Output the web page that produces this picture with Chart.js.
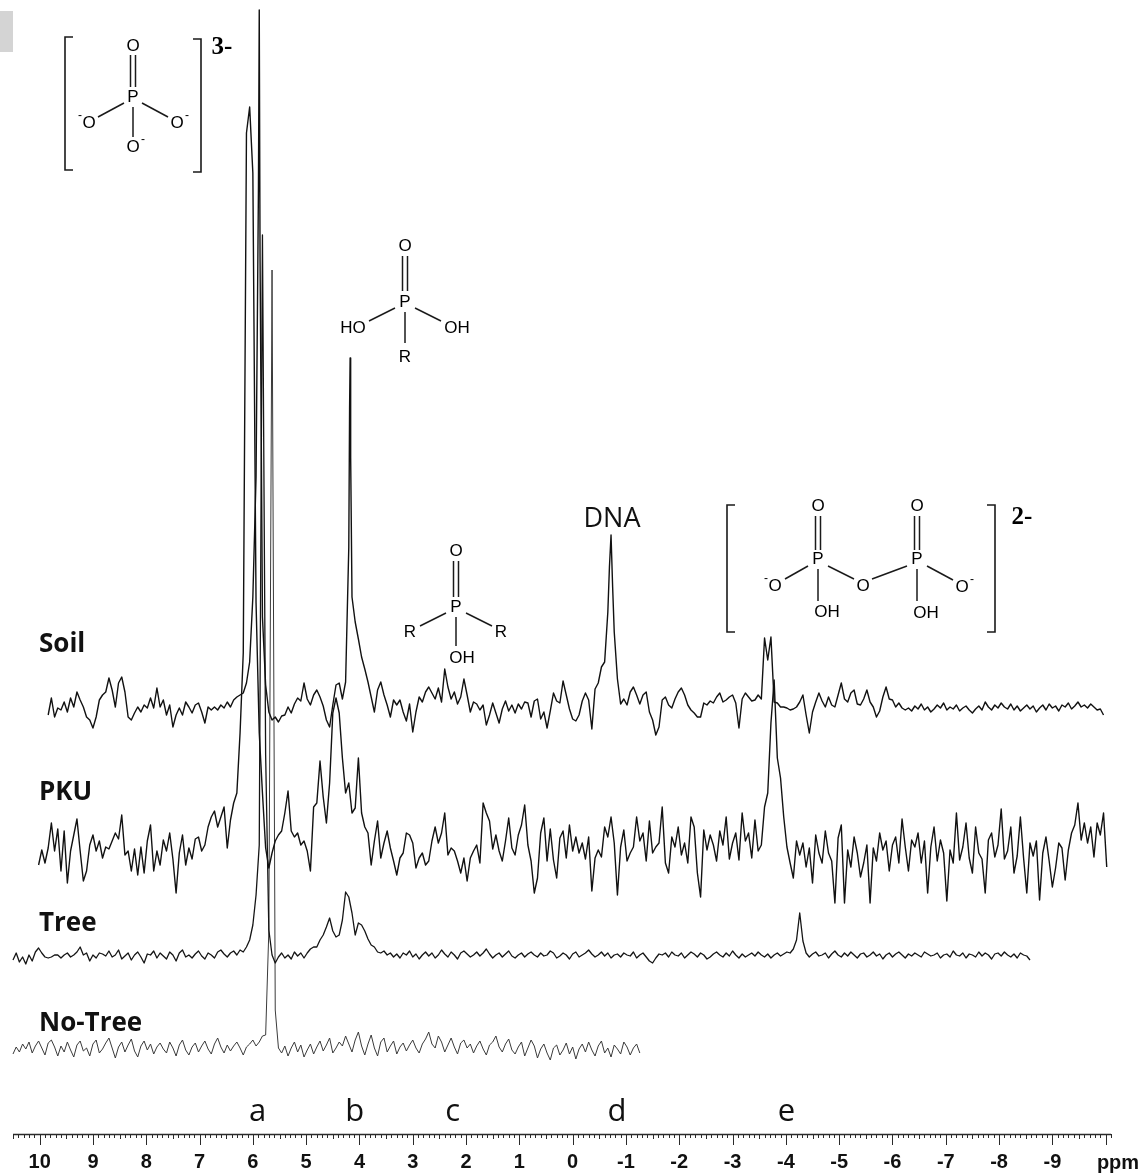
<!DOCTYPE html>
<html><head><meta charset="utf-8">
<script src="https://cdn.jsdelivr.net/npm/chart.js@4.4.1/dist/chart.umd.min.js"></script>
<style>html,body{margin:0;padding:0;background:#fff;}#wrap{width:1142px;height:1174px;position:relative;}</style>
</head><body><div id="wrap"><canvas id="c"></canvas></div>
<script>
// ---- data (ppm grid step, intensities above each trace's baseline) ----
const STEP = 0.06;
const tickLabels = [10, 9, 8, 7, 6, 5, 4, 3, 2, 1, 0, -1, -2, -3, -4, -5, -6, -7, -8, -9];
const traceNames = ['Soil', 'PKU', 'Tree', 'No-Tree'];
const traceOffsets = [427, 281, 179, 84];
const peakLetters = ['a', 'b', 'c', 'd', 'e'];
const peakLetterPpm = [5.91, 4.09, 2.25, -0.83, -4.01];

const soilStart = 9.84;
const soilVals = [
 -8, 9, -10, -1, -3, 5, -5, 9, 0, 15,
 7, 0, -10, -13, -21, -10, 7, 12, 15, 29,
 17, 0, 24, 30, 15, -10, -13, -6, 0, -5,
 2, -1, 9, -1, 19, 0, 7, -8, 2, -20,
 -8, -1, -8, 5, 0, -6, 2, 4, -5, -16,
 0, -3, 0, -3, 2, -1, 5, 0, 7, 10,
 12, 14, 24, 45, 110, 230, 697, 90, 22, -5,
 -13, -10, -15, -9, -8, 0, -6, 3, 9, 6,
 24, 8, 2, 12, 17, 10, 1, -13, -20, 2,
 22, 24, 8, 25, 160, 110, 85, 68, 50, 38,
 25, 10, -5, 17, 25, 12, 2, -10, 7, 2,
 7, -5, -14, 3, -25, -5, 10, 5, 15, 20,
 14, 8, 19, 5, 38, 20, 8, 15, 3, 10,
 28, 12, -5, 5, 3, -3, 2, -18, -8, 4,
 -6, -16, -2, 6, -4, 2, -6, 3, -2, 5,
 4, -10, 6, 8, -12, -5, -21, -4, 14, 6,
 4, 26, 12, -2, -12, -14, -8, 6, 14, 7,
 -22, 18, 24, 40, 45, 95, 172, 75, 28, 3,
 8, 2, 15, 20, 12, 3, 12, 15, -5, -13,
 -28, -20, 7, 10, 2, -1, 8, 15, 19, 12,
 2, -3, -6, -10, -10, 4, 2, 6, 4, 10,
 14, 5, 7, 10, 12, 4, -21, 8, 14, 10,
 6, 7, 12, 8, 69, 47, 70, 5, 4, 0,
 0, -1, -3, -2, 0, 5, 12, -8, -26, -5,
 5, 14, 6, 0, 10, 2, 0, 12, 24, 8,
 5, 14, 17, 3, 2, 8, 17, 5, 0, -10,
 -4, 10, 20, 8, 7, 0, 4, -1, -3, -1,
 -4, 1, -2, 3, -3, 0, -5, -2, 2, -1,
 4, -3, 0, -2, 2, -4, -1, 1, -3, -6,
 -2, 1, -3, 5, 0, -3, 2, -1, 4, 0,
 -2, 3, -3, 1, -4, -1, 2, -2, 1, -5,
 -1, 2, -3, 3, -1, 1, -4, 2, 0, 4,
 -2, 1, 5, 0, 2, -1, 3, 0, -3, -2,
 -8
];
const soilExtraPpm = [5.895, 5.865, 4.185, 4.175, 4.165, -0.69, -0.75];
const soilExtraVals = [520, 450, 300, 349, 250, 140, 120];

const pkuStart = 10.02;
const pkuVals = [
 -12, 3, -10, 5, 30, 2, 24, -18, 22, -30,
 2, 18, 34, 2, -28, -18, 8, 18, 2, 12,
 -5, 6, 4, 12, 20, 14, 38, -2, 2, -18,
 4, -22, 6, -20, 12, 28, -18, 2, -12, 13,
 2, 20, -6, -40, 0, 18, -12, 5, -6, 14,
 16, 2, 8, 26, 36, 42, 26, 36, 46, 5,
 33, 50, 60, 120, 200, 720, 746, 680, 250, 120,
 60, 5, -15, 0, 12, 18, 22, 40, 62, 22,
 16, 20, 8, 12, 2, -18, 46, 50, 92, 56,
 30, 70, 140, 155, 140, 95, 60, 70, 40, 45,
 95, 40, 26, 20, -12, 12, 32, -5, 10, 22,
 5, -8, -22, -5, 0, 20, 18, 10, -15, -5,
 0, -12, -8, 12, 26, 10, 20, 40, -2, 5,
 2, -8, -20, -5, -28, -5, 2, 8, -10, 50,
 40, 32, 4, 18, 2, -8, 12, 35, 5, -2,
 18, 28, 48, 8, -8, -40, -25, 20, 35, -8,
 24, -7, -25, 15, 22, -5, 28, 2, 16, 0,
 10, -6, 16, -38, -5, 3, -4, 26, 16, 36,
 10, -42, 6, 23, -8, 0, 6, 36, 12, 20,
 -8, 32, 0, 6, 10, 46, -10, -20, 16, 6,
 26, -2, 10, -10, 36, 26, -20, -44, 23, 3,
 18, 8, -8, 22, 8, 36, -6, 10, 20, -7,
 40, 12, 20, -5, 33, 2, 8, 46, 60, 130,
 173, 95, 75, 36, 6, -10, -25, 12, -2, 10,
 -14, 5, -30, 18, 0, -10, 22, 0, -8, -50,
 15, 28, -50, 3, -14, 16, 0, -24, -10, 8,
 -50, 5, -8, 20, 3, 12, -18, 8, 16, -10,
 34, 6, -18, 13, 6, 20, -10, 12, -40, 6,
 26, -8, 13, 0, -48, 3, -10, 40, -7, 6,
 30, -5, -20, 26, 0, -6, -40, 13, 20, -4,
 8, 44, -6, 2, 26, -20, -3, 36, -5, -40,
 10, -3, 12, -47, 0, 16, -8, -34, -15, 10,
 5, -27, 3, 20, 28, 50, 13, 30, 10, 26,
 -4, 30, 18, 40, -14
];

const treeStart = 10.50;
const treeVals = [
 -5, 2, -7, -2, -9, 0, -6, 3, 7, 2,
 -2, -3, -2, 0, 0, -3, 0, 2, -2, 0,
 3, 8, 0, 2, -6, 0, -3, 2, 1, -1,
 4, -2, 0, 5, -4, -1, 2, -5, 0, 3,
 -2, -8, 1, 0, 4, -3, 2, -1, -4, 3,
 0, -6, 2, 5, -2, 0, -3, 1, 4, -1,
 -4, 2, 0, -3, 3, 5, 1, -2, 2, 4,
 0, 5, 3, 8, 15, 30, 60, 110, 720, 200,
 25, 0, -8, -2, 2, -3, 0, -4, 3, -1,
 2, -3, 2, 6, 8, 8, 15, 20, 28, 37,
 24, 18, 20, 35, 63, 58, 42, 20, 32, 30,
 24, 16, 10, 8, 3, 2, 4, 0, 2, -2,
 1, -3, 2, 0, 4, -2, 1, -4, 0, 3,
 -1, 2, -3, 0, 5, 1, -2, 3, 0, -4,
 2, 4, 1, -2, 0, 3, -1, 2, 6, 1,
 -3, 0, 2, -2, 1, 4, -1, -3, 0, 2,
 -2, 1, 3, 0, -2, 2, -1, 0, 4, 2,
 -3, -1, 2, 0, -4, 1, 3, -2, 0, 2,
 5, 1, -2, 0, 3, -1, 2, -3, 0, 1,
 -2, 2, 0, -1, 3, -3, 0, 2, -2, -6,
 -8, -3, 1, 0, 2, -2, 3, 0, -1, 2,
 -3, 0, 3, 1, -2, 2, 0, -4, -2, 1,
 3, 0, -2, 2, -1, 4, 0, -3, 1, -2,
 0, 2, -1, 3, 0, -2, 1, -3, 0, 2,
 -1, 1, 3, 2, 6, 15, 42, 14, 2, -2,
 1, 3, -1, 0, 2, -3, 1, 4, 0, -2,
 2, -1, 3, 0, -3, 1, 2, -2, 0, 3,
 -1, 1, -4, 0, 2, -2, 1, 3, 0, -3,
 1, -1, 2, 0, -2, 3, 1, -1, 0, 2,
 -3, 0, 1, -2, 4, 0, -1, 2, -3, 1,
 0, -2, 3, -1, 2, 0, -4, 1, 2, -1,
 3, 0, -2, 1, -3, 2, 0, -1, -5
];

const noTreeStart = 10.50;
const noTreeVals = [
 -4, 3, -2, 6, 1, 8, -3, 4, 9, 2,
 -5, 7, 10, 3, -6, 4, -2, 8, 0, -7,
 5, 9, -1, 2, -6, 6, 10, -3, 1, 7,
 12, 2, -8, 3, 8, -2, 5, 11, -1, -7,
 4, 9, 0, 6, -4, 3, 7, 1, -3, 8,
 2, -6, 5, 10, 0, -5, 3, 7, -2, 4,
 9, 1, -4, 6, 12, 3, -3, 5, -1, 4,
 8, 2, -5, 3, 6, 10, 4, 8, 14, 15,
 120, 780, 40, 2, -3, 4, -6, 2, 8, -2,
 5, -7, 0, 6, -4, 3, 9, -1, 5, 12,
 -3, 2, 8, 4, 14, 6, -2, 10, 18, 4,
 -5, 6, 15, 2, -6, 8, 12, -2, 4, 9,
 -4, 3, 7, -1, 5, 10, 2, -3, 6, 11,
 18, 6, 2, 14, 8, -2, 5, 12, 3, -4,
 7, 10, 2, 6, -3, 4, 9, 1, -5, 5,
 8, 14, 3, -2, 6, 11, 0, -4, 3, 8,
 -6, 2, 10, 4, -8, 1, 6, -3, -10, 2,
 5, -5, 0, 7, -4, 3, -9, 1, 6, -2,
 8, 0, -6, 4, 9, -3, 2, -7, 5, 1,
 -4, 8, 3, -5, 2, 6, -3
];

// ---- build series ----
function buildSeries(start, vals, offset, extraPpm, extraVals) {
  const pts = vals.map((v, i) => ({ x: +(start - i * STEP).toFixed(3), y: offset + v }));
  (extraPpm || []).forEach((p, k) => pts.push({ x: p, y: offset + extraVals[k] }));
  pts.sort((a, b) => b.x - a.x);
  return pts;
}
const series = [
  buildSeries(soilStart, soilVals, traceOffsets[0], soilExtraPpm, soilExtraVals),
  buildSeries(pkuStart, pkuVals, traceOffsets[1]),
  buildSeries(treeStart, treeVals, traceOffsets[2]),
  buildSeries(noTreeStart, noTreeVals, traceOffsets[3])
];
const lineColors = ['#111', '#111', '#151515', '#3a3a3a'];
const lineWidths = [1.4, 1.4, 1.3, 1.0];

// ---- drawing helpers for annotations ----
const ATOM = '17px "Liberation Sans", Arial, sans-serif';
const SUP = '12px "Liberation Sans", Arial, sans-serif';
const AXF = 'bold 20px "Liberation Sans Narrow", "Liberation Sans", Arial, sans-serif';
function T(ctx, s, x, y, font, align) {
  ctx.font = font; ctx.textAlign = align || 'center'; ctx.textBaseline = 'middle'; ctx.fillText(s, x, y);
}
function L(ctx, p) {
  ctx.beginPath(); ctx.moveTo(p[0], p[1]);
  for (let i = 2; i < p.length; i += 2) ctx.lineTo(p[i], p[i + 1]);
  ctx.stroke();
}

const annot = {
  id: 'annot',
  afterDraw(chart) {
    const ctx = chart.ctx, xs = chart.scales.x, a = chart.chartArea;
    ctx.save();
    ctx.fillStyle = '#d4d4d4'; ctx.fillRect(0, 11, 13, 41);
    // axis line + ticks
    ctx.strokeStyle = '#2a2a2a'; ctx.lineWidth = 1.5;
    L(ctx, [xs.getPixelForValue(10.5), a.bottom + 0.5, xs.getPixelForValue(-10.1), a.bottom + 0.5]);
    ctx.lineWidth = 1;
    for (let k = -101; k <= 105; k++) {
      const px = Math.round(xs.getPixelForValue(k / 10)) + 0.5;
      const len = k % 10 === 0 ? 11 : (k % 5 === 0 ? 5 : 4);
      L(ctx, [px, a.bottom, px, a.bottom + len]);
    }
    ctx.fillStyle = '#111';
    T(ctx, 'ppm', 1118, 1163, AXF);
    // peak letters
    peakLetters.forEach((s, i) => T(ctx, s, xs.getPixelForValue(peakLetterPpm[i]), 1112, '31px "Open Sans", sans-serif'));
    // trace names
    const nameY = [645, 793, 924, 1024];
    traceNames.forEach((s, i) => T(ctx, s, 39, nameY[i], 'bold 26px "Open Sans", sans-serif', 'left'));
    T(ctx, 'DNA', 612, 519, '27px "Open Sans", sans-serif');

    ctx.strokeStyle = '#1a1a1a'; ctx.lineWidth = 1.6; ctx.fillStyle = '#000';
    // phosphate PO4 3-
    L(ctx, [73, 37, 65, 37, 65, 170, 73, 170]);
    L(ctx, [193, 39, 201, 39, 201, 172, 193, 172]);
    T(ctx, '3-', 222, 48, 'bold 25px "Liberation Serif", serif');
    ctx.lineWidth = 1.5;
    T(ctx, 'O', 133, 46, ATOM);
    L(ctx, [130.5, 55, 130.5, 87]); L(ctx, [135.5, 55, 135.5, 87]);
    T(ctx, 'P', 133, 97, ATOM);
    L(ctx, [124, 103, 98, 117]); L(ctx, [142, 103, 168, 117]); L(ctx, [133, 107, 133, 137]);
    T(ctx, 'O', 89, 123, ATOM); T(ctx, '-', 80, 116, SUP);
    T(ctx, 'O', 177, 123, ATOM); T(ctx, '-', 187, 116, SUP);
    T(ctx, 'O', 133, 147, ATOM); T(ctx, '-', 143, 140, SUP);
    // phosphonate HO-P(=O)(R)-OH
    T(ctx, 'O', 405, 246, ATOM);
    L(ctx, [402.5, 256, 402.5, 291]); L(ctx, [407.5, 256, 407.5, 291]);
    T(ctx, 'P', 405, 302, ATOM);
    L(ctx, [395, 308, 369, 321]); L(ctx, [415, 308, 441, 321]); L(ctx, [405, 312, 405, 343]);
    T(ctx, 'HO', 353, 328, ATOM); T(ctx, 'OH', 457, 328, ATOM); T(ctx, 'R', 405, 357, ATOM);
    // R2P(=O)OH
    T(ctx, 'O', 456, 551, ATOM);
    L(ctx, [453.5, 561, 453.5, 597]); L(ctx, [458.5, 561, 458.5, 597]);
    T(ctx, 'P', 456, 607, ATOM);
    L(ctx, [446, 613, 420, 626]); L(ctx, [466, 613, 492, 626]); L(ctx, [456, 617, 456, 646]);
    T(ctx, 'R', 410, 632, ATOM); T(ctx, 'R', 501, 632, ATOM); T(ctx, 'OH', 462, 658, ATOM);
    // pyrophosphate
    ctx.lineWidth = 1.6;
    L(ctx, [735, 505, 727, 505, 727, 632, 735, 632]);
    L(ctx, [987, 505, 995, 505, 995, 632, 987, 632]);
    T(ctx, '2-', 1022, 518, 'bold 25px "Liberation Serif", serif');
    ctx.lineWidth = 1.5;
    T(ctx, 'O', 818, 506, ATOM); T(ctx, 'O', 917, 506, ATOM);
    L(ctx, [815.5, 516, 815.5, 550]); L(ctx, [820.5, 516, 820.5, 550]);
    L(ctx, [914.5, 516, 914.5, 550]); L(ctx, [919.5, 516, 919.5, 550]);
    T(ctx, 'P', 818, 559, ATOM); T(ctx, 'P', 917, 559, ATOM);
    L(ctx, [808, 566, 785, 579]); L(ctx, [828, 566, 854, 579]);
    L(ctx, [872, 579, 907, 566]); L(ctx, [927, 566, 953, 580]);
    L(ctx, [818, 569, 818, 601]); L(ctx, [917, 569, 917, 601]);
    T(ctx, 'O', 775, 586, ATOM); T(ctx, '-', 766, 579, SUP);
    T(ctx, 'O', 863, 586, ATOM);
    T(ctx, 'O', 962, 587, ATOM); T(ctx, '-', 972, 580, SUP);
    T(ctx, 'OH', 827, 612, ATOM); T(ctx, 'OH', 926, 613, ATOM);
    ctx.restore();
  }
};

new Chart(document.getElementById('c'), {
  type: 'line',
  data: {
    datasets: series.map((d, i) => ({
      label: traceNames[i], data: d, borderColor: lineColors[i], borderWidth: lineWidths[i],
      pointRadius: 0, tension: 0, fill: false, clip: false, borderJoinStyle: 'round'
    }))
  },
  options: {
    responsive: true, maintainAspectRatio: false, animation: false,
    layout: { padding: { left: 13, right: 31, top: 0, bottom: 0 } },
    plugins: { legend: { display: false }, tooltip: { enabled: false } },
    scales: {
      x: {
        type: 'linear', reverse: true, min: -10.1, max: 10.5,
        grid: { display: false, drawTicks: false, tickLength: 0 },
        border: { display: false },
        afterBuildTicks: s => { s.ticks = tickLabels.map(v => ({ value: v })); },
        afterFit: s => { s.height = 40; },
        ticks: {
          autoSkip: false, maxRotation: 0, padding: 16, color: '#111',
          font: { family: '"Liberation Sans Narrow", "Liberation Sans", Arial, sans-serif', size: 20, weight: 'bold' },
          callback: v => String(v)
        }
      },
      y: { display: false, min: 0, max: 1134 }
    }
  },
  plugins: [annot]
});
</script></body></html>
